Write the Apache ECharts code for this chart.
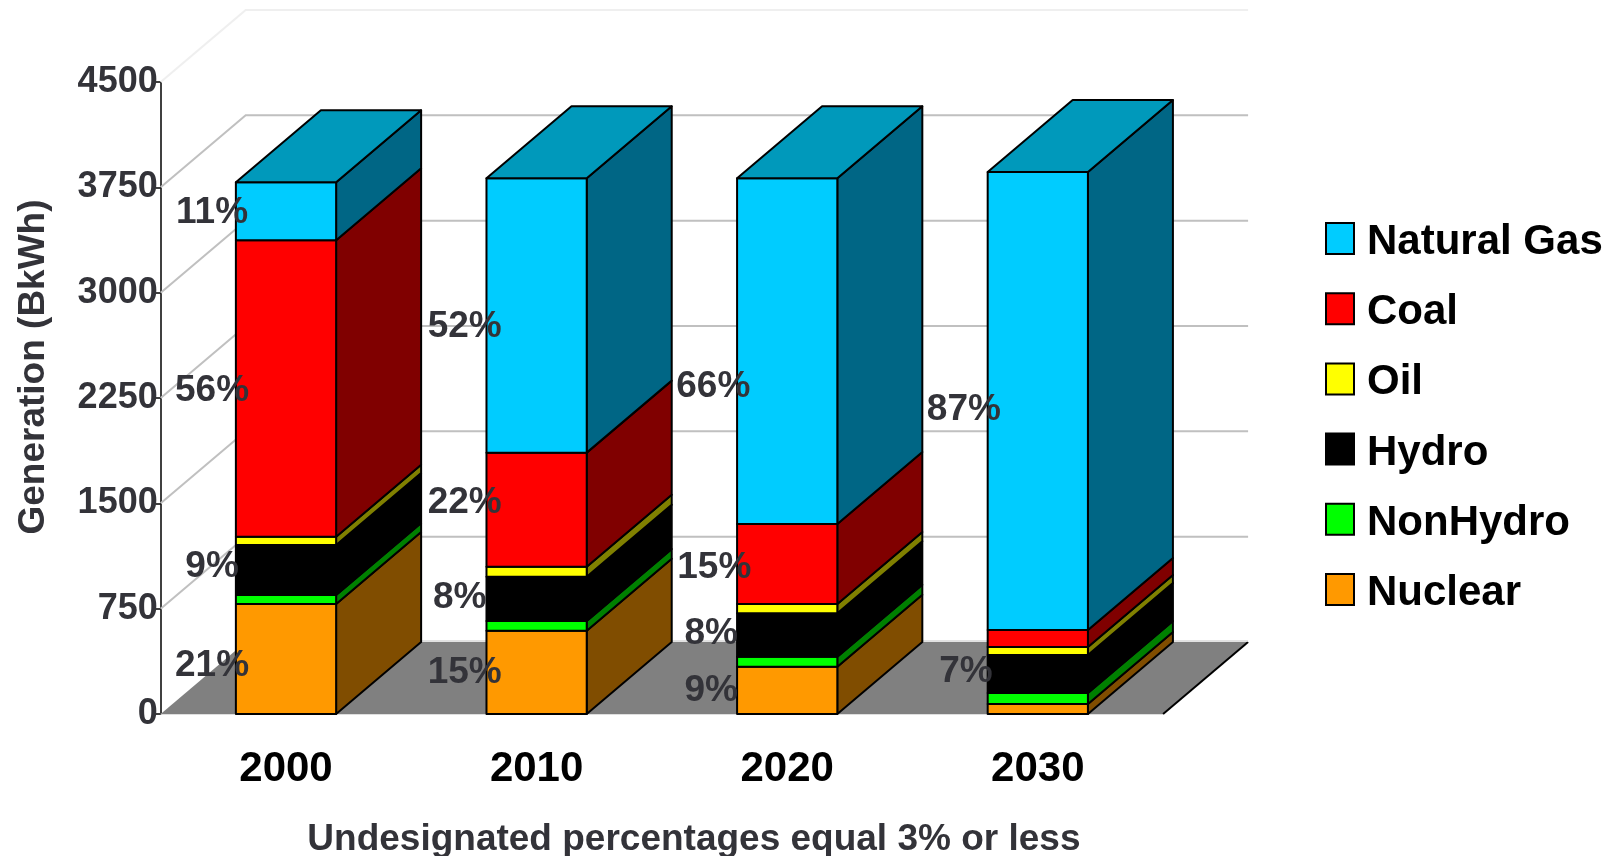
<!DOCTYPE html>
<html>
<head>
<meta charset="utf-8">
<style>html,body{margin:0;padding:0;background:#fff}#c{width:1614px;height:856px}</style>
<script src="https://cdn.jsdelivr.net/npm/echarts@6/dist/echarts.min.js"></script>
</head>
<body>
<div id="c"></div>
<script>
const categories = ['2000', '2010', '2020', '2030'];
const yTicks = [0, 750, 1500, 2250, 3000, 3750, 4500];

// Stacked bottom-to-top, values in BkWh
const nuclear = [783, 593, 337, 71];
const nonHydro = [64, 69, 71, 79];
const hydro = [356, 316, 309, 270];
const oil = [59, 71, 66, 57];
const coal = [2111, 812, 570, 121];
const naturalGas = [413, 1953, 2461, 3261];

// Percentage labels as printed
const nuclearPct = ['21%', '15%', '9%', null];
const hydroPct = ['9%', '8%', '8%', '7%'];
const coalPct = ['56%', '22%', '15%', null];
const gasPct = ['11%', '52%', '66%', '87%'];

const FONT = '"Liberation Sans", Arial, sans-serif';
const TEXT = '#333339';
const DX = 85, DY = 72;

const fuels = [
  { name: 'Nuclear', values: nuclear, front: '#ff9900', side: '#804d00', pct: nuclearPct, shift: [7, 0, 0, 0], shiftX: [0, 2, -2, 0] },
  { name: 'NonHydro', values: nonHydro, front: '#00ff00', side: '#008000' },
  { name: 'Hydro', values: hydro, front: '#000000', side: '#000000', pct: hydroPct, shift: [-3, -1, -1, -2], shiftX: [0, -3, -2, 2] },
  { name: 'Oil', values: oil, front: '#ffff00', side: '#808000' },
  { name: 'Coal', values: coal, front: '#ff0000', side: '#800000', pct: coalPct, shift: [2, -7, 4, 0], shiftX: [0, 2, 1, 0] },
  { name: 'Natural Gas', values: naturalGas, front: '#00ccff', side: '#006685', top: '#0099bb', pct: gasPct, shift: [2, 11, 36, 9], shiftX: [0, 2, 0, 0] }
];

const labelData = [];
const running = categories.map(() => 0);
const barSeries = fuels.map(f => {
  const data = f.values.map((v, i) => {
    const base = running[i];
    running[i] += v;
    if (f.pct && f.pct[i]) labelData.push([i, (base + running[i]) / 2, f.pct[i], f.shift[i], f.shiftX[i]]);
    return [i, base, running[i]];
  });
  return {
    type: 'custom', name: f.name, z: 4, data,
    encode: { x: 0, y: [1, 2] },
    itemStyle: { color: f.front },
    renderItem(params, api) {
      const c = api.value(0);
      const b = api.coord([c, api.value(1)]);
      const t = api.coord([c, api.value(2)]);
      const w = api.size([1, 0])[0] * 0.4;
      const x0 = b[0] - w / 2, x1 = b[0] + w / 2;
      const stroke = { stroke: '#000', lineWidth: 2, lineJoin: 'round' };
      const poly = (points, fill) => ({
        type: 'polygon', shape: { points },
        style: Object.assign({ fill }, stroke)
      });
      const children = [
        poly([[x1, b[1]], [x1 + DX, b[1] - DY], [x1 + DX, t[1] - DY], [x1, t[1]]], f.side),
        poly([[x0, b[1]], [x1, b[1]], [x1, t[1]], [x0, t[1]]], f.front)
      ];
      if (f.top) children.push(poly([[x0, t[1]], [x1, t[1]], [x1 + DX, t[1] - DY], [x0 + DX, t[1] - DY]], f.top));
      return { type: 'group', children };
    }
  };
});

const floorSeries = {
  type: 'custom', name: 'floor', z: 1, silent: true, data: [[0, 0]],
  renderItem(params, api) {
    const g = params.coordSys;
    const y = api.coord([0, 0])[1];
    const L = g.x, R = g.x + g.width;
    return { type: 'group', children: [
      { type: 'polygon', shape: { points: [[L, y], [R, y], [R + DX, y - DY], [L + DX, y - DY]] },
        style: { fill: '#808080' } },
      { type: 'line', shape: { x1: R, y1: y, x2: R + DX, y2: y - DY },
        style: { stroke: '#000', lineWidth: 2 } },
      { type: 'line', shape: { x1: L + DX, y1: y - DY - 1, x2: R + DX, y2: y - DY - 1 },
        style: { stroke: '#d8d8d8', lineWidth: 1.5 } }
    ] };
  }
};

const wallSeries = {
  type: 'custom', name: 'walls', z: 1, silent: true,
  data: yTicks.filter(v => v > 0).map(v => [0, v]),
  renderItem(params, api) {
    const g = params.coordSys;
    const v = api.value(1);
    const y = api.coord([0, v])[1];
    const L = g.x, R = g.x + g.width;
    const color = v === 4500 ? '#efefef' : '#c0c0c0';
    return { type: 'polyline',
      shape: { points: [[L, y], [L + DX, y - DY], [R + DX, y - DY]] },
      style: { fill: 'none', stroke: color, lineWidth: 2 } };
  }
};

const labelSeries = {
  type: 'custom', name: 'percent labels', z: 6, silent: true, data: labelData,
  renderItem(params, api) {
    const p = api.coord([api.value(0), api.value(1)]);
    const w = api.size([1, 0])[0];
    return { type: 'text',
      style: { x: p[0] - w * 0.295 + api.value(4), y: p[1] + api.value(3),
        text: labelData[params.dataIndex][2],
        font: 'bold 37px ' + FONT, fill: TEXT, align: 'center', verticalAlign: 'middle' } };
  }
};

const legendItems = fuels.slice().reverse().map(f => ({
  name: f.name, icon: 'rect',
  itemStyle: { color: f.front, borderColor: '#000', borderWidth: 2 }
}));

const chart = echarts.init(document.getElementById('c'), null, { renderer: 'canvas' });
chart.setOption({
  animation: false,
  backgroundColor: '#fff',
  grid: { left: 160.7, top: 82, width: 1002.4, height: 632, containLabel: false, outerBoundsMode: 'none' },
  legend: {
    orient: 'vertical', left: 1325, top: 221.5, padding: 0, itemWidth: 28, itemHeight: 31, itemGap: 28.2,
    data: legendItems, selectedMode: false,
    formatter: n => '{a|' + n + '}',
    textStyle: { padding: [0, 0, 0, 8],
      rich: { a: { fontFamily: FONT, fontWeight: 'bold', fontSize: 42, color: '#000', padding: [8, 0, 0, 0] } } }
  },
  xAxis: {
    type: 'category', data: categories,
    axisLine: { lineStyle: { color: '#d4d4d4', width: 1.5 } },
    axisTick: { show: false },
    axisLabel: { margin: 34, fontFamily: FONT, fontWeight: 'bold', fontSize: 42, color: '#000' },
    name: 'Undesignated percentages equal 3% or less',
    nameLocation: 'middle', nameGap: 107,
    nameTextStyle: { fontFamily: FONT, fontWeight: 'bold', fontSize: 37, color: TEXT, padding: [0, 0, 0, 64] }
  },
  yAxis: {
    type: 'value', min: 0, max: 4500, interval: 750,
    axisLine: { show: true, lineStyle: { color: '#000', width: 1.5 } },
    axisTick: { show: true, length: 5, lineStyle: { color: '#000', width: 1.5 } },
    splitLine: { show: false },
    axisLabel: { margin: 3, fontFamily: FONT, fontWeight: 'bold', fontSize: 36, color: TEXT,
      formatter: v => String(v) },
    name: 'Generation (BkWh)', nameLocation: 'middle', nameGap: 108,
    nameTextStyle: { fontFamily: FONT, fontWeight: 'bold', fontSize: 37, color: TEXT, padding: [0, 0, 0, 62] }
  },
  series: [floorSeries, wallSeries].concat(barSeries, [labelSeries])
});
</script>
</body>
</html>
